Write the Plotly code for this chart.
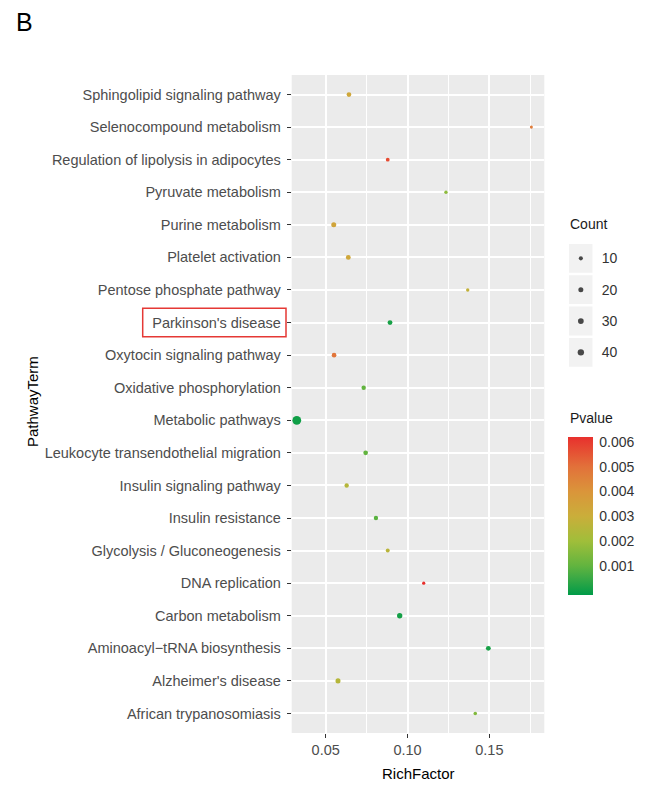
import plotly.graph_objects as go
import numpy as np

# ---------------- data ----------------
pathways = [
    "African trypanosomiasis",
    "Alzheimer's disease",
    "Aminoacyl\u2212tRNA biosynthesis",
    "Carbon metabolism",
    "DNA replication",
    "Glycolysis / Gluconeogenesis",
    "Insulin resistance",
    "Insulin signaling pathway",
    "Leukocyte transendothelial migration",
    "Metabolic pathways",
    "Oxidative phosphorylation",
    "Oxytocin signaling pathway",
    "Parkinson's disease",
    "Pentose phosphate pathway",
    "Platelet activation",
    "Purine metabolism",
    "Pyruvate metabolism",
    "Regulation of lipolysis in adipocytes",
    "Selenocompound metabolism",
    "Sphingolipid signaling pathway",
]
rich_factor = [0.1414, 0.0575, 0.1494, 0.0952, 0.1099, 0.0879, 0.0807, 0.0628,
               0.0744, 0.0323, 0.0732, 0.0551, 0.0893, 0.1368, 0.0638, 0.0549,
               0.1235, 0.0879, 0.1757, 0.0642]
counts = [6, 20, 18, 24, 4, 9, 13, 13, 16, 95, 13, 16, 18, 5, 18, 20, 5, 8, 3, 16]
pvalues = [0.0015, 0.0025, 0.0001, 0.00005, 0.0062, 0.0026, 0.0009, 0.0025,
           0.0010, 0.00001, 0.0010, 0.0049, 0.0001, 0.0028, 0.0033, 0.0034,
           0.0017, 0.0057, 0.0047, 0.0033]

legend_counts = [10, 20, 30, 40]
pvalue_ticks = [0.001, 0.002, 0.003, 0.004, 0.005, 0.006]
x_ticks = [0.05, 0.10, 0.15]
x_tick_labels = ["0.05", "0.10", "0.15"]

# ---------------- styling helpers ----------------
W, H = 645, 800
def px_x(p):
    return p / W
def px_y(p):
    return 1 - p / H

def dot_size(c):
    return 1.8 + 0.72 * np.sqrt(np.asarray(c, dtype=float))

CMIN, CMAX = -0.00018, 0.0062
def norm(v):
    return (v - CMIN) / (CMAX - CMIN)

colorscale = [
    [0.0, "#009B48"],
    [norm(0.0005), "#3AA945"],
    [norm(0.001), "#62B43F"],
    [norm(0.002), "#A0BE3A"],
    [norm(0.003), "#CAAE3A"],
    [norm(0.004), "#DA953A"],
    [norm(0.005), "#E2713A"],
    [1.0, "#E8302D"],
]

FONT = "Liberation Sans, Arial, sans-serif"
TICK_COL = "#4D4D4D"

panel_l, panel_r, panel_t, panel_b = 291.7, 544.3, 75, 733
cb_l, cb_w, cb_b, cb_len = 568.3, 25, 595, 158.3

fig = go.Figure()

fig.add_trace(go.Scatter(
    x=rich_factor, y=pathways, mode="markers",
    marker=dict(
        size=dot_size(counts), color=pvalues, colorscale=colorscale,
        cmin=CMIN, cmax=CMAX, line=dict(width=0), opacity=1,
        showscale=True,
        colorbar=dict(
            thickness=cb_w, thicknessmode="pixels",
            len=cb_len, lenmode="pixels",
            x=px_x(cb_l), xanchor="left",
            y=px_y(cb_b), yanchor="bottom",
            xpad=0, ypad=0, outlinewidth=0,
            tickvals=pvalue_ticks, ticktext=[f"{v:.3f}" for v in pvalue_ticks],
            ticks="outside", ticklen=4, tickcolor="rgba(0,0,0,0)", tickwidth=1,
            tickfont=dict(size=14, color="#333333", family=FONT),
        ),
    ),
    showlegend=False, hoverinfo="skip",
    xaxis="x", yaxis="y",
))

# Count legend drawn on a small auxiliary axis
leg_idx = list(range(len(legend_counts)))
fig.add_trace(go.Scatter(
    x=[0.5] * len(legend_counts), y=leg_idx, mode="markers",
    marker=dict(size=dot_size(legend_counts), color="black", line=dict(width=0)),
    showlegend=False, hoverinfo="skip", xaxis="x2", yaxis="y2",
))

shapes = []
for i in leg_idx:
    shapes.append(dict(type="rect", xref="x2", yref="y2", x0=0, x1=1,
                       y0=i - 0.46, y1=i + 0.46, fillcolor="#F2F2F2",
                       line=dict(width=0), layer="below"))
# white tick marks inside the colour bar (both edges, like ggplot)
for v in pvalue_ticks:
    yy = cb_b - norm(v) * cb_len
    for x0, x1 in [(cb_l, cb_l + 5), (cb_l + cb_w - 5, cb_l + cb_w)]:
        shapes.append(dict(type="line", xref="paper", yref="paper",
                           x0=px_x(x0), x1=px_x(x1), y0=px_y(yy), y1=px_y(yy),
                           line=dict(color="white", width=1), layer="above"))
# highlight box around Parkinson's disease label
shapes.append(dict(type="rect", xref="paper", yref="paper",
                   x0=px_x(142.7), x1=px_x(286), y0=px_y(336.7), y1=px_y(308.3),
                   line=dict(color="#E53935", width=1.5), fillcolor="rgba(0,0,0,0)"))

fig.update_layout(
    width=W, height=H,
    margin=dict(l=0, r=0, t=0, b=0),
    paper_bgcolor="white", plot_bgcolor="white",
    font=dict(family=FONT),
    xaxis=dict(
        domain=[px_x(panel_l), px_x(panel_r)],
        range=[0.0292, 0.1836],
        tickvals=x_ticks, ticktext=x_tick_labels,
        showgrid=True, gridcolor="white", gridwidth=1.5,
        minor=dict(dtick=0.025, tick0=0, showgrid=True, gridcolor="white", gridwidth=0.7),
        ticks="outside", ticklen=4, tickcolor="#333333", tickwidth=1,
        tickfont=dict(size=14.5, color=TICK_COL, family=FONT),
        zeroline=False, showline=False, automargin=False,
        anchor="y",
    ),
    yaxis=dict(
        domain=[px_y(panel_b), px_y(panel_t)],
        type="category", categoryorder="array", categoryarray=pathways,
        range=[-0.6, len(pathways) - 0.4],
        showgrid=True, gridcolor="white", gridwidth=1.5,
        ticks="outside", ticklen=4, tickcolor="#333333", tickwidth=1,
        ticklabelstandoff=3,
        tickfont=dict(size=14.5, color=TICK_COL, family=FONT),
        zeroline=False, showline=False, automargin=False,
        anchor="x",
    ),
    xaxis2=dict(
        domain=[px_x(569), px_x(592.7)], range=[0, 1],
        showgrid=False, zeroline=False, showticklabels=False, ticks="",
        anchor="y2", fixedrange=True,
    ),
    yaxis2=dict(
        domain=[px_y(368), px_y(242.7)], range=[3.5, -0.5],
        tickvals=leg_idx, ticktext=[str(c) for c in legend_counts],
        side="right", ticks="", ticklabelstandoff=8,
        showgrid=False, zeroline=False,
        tickfont=dict(size=14, color="#333333", family=FONT),
        anchor="x2", fixedrange=True,
    ),
    shapes=[dict(type="rect", xref="paper", yref="paper",
                 x0=px_x(panel_l), x1=px_x(panel_r), y0=px_y(panel_b), y1=px_y(panel_t),
                 fillcolor="#EBEBEB", line=dict(width=0), layer="below")] + shapes,
    annotations=[
        dict(text="B", x=px_x(14), y=px_y(6), xref="paper", yref="paper",
             xanchor="left", yanchor="top", showarrow=False,
             font=dict(size=25, color="black", family=FONT)),
        dict(text="RichFactor", x=px_x((panel_l + panel_r) / 2), y=px_y(773),
             xref="paper", yref="paper", xanchor="center", yanchor="middle",
             showarrow=False, font=dict(size=15, color="black", family=FONT)),
        dict(text="PathwayTerm", x=px_x(33), y=px_y(402), textangle=-90,
             xref="paper", yref="paper", xanchor="center", yanchor="middle",
             showarrow=False, font=dict(size=15, color="black", family=FONT)),
        dict(text="Count", x=px_x(568), y=px_y(224), xref="paper", yref="paper",
             xanchor="left", yanchor="middle", showarrow=False,
             font=dict(size=14, color="#1A1A1A", family=FONT)),
        dict(text="Pvalue", x=px_x(568), y=px_y(418), xref="paper", yref="paper",
             xanchor="left", yanchor="middle", showarrow=False,
             font=dict(size=14, color="#1A1A1A", family=FONT)),
    ],
)

fig.write_html("out.html", config={"displayModeBar": False},
               post_script="document.body.style.margin='0';")
